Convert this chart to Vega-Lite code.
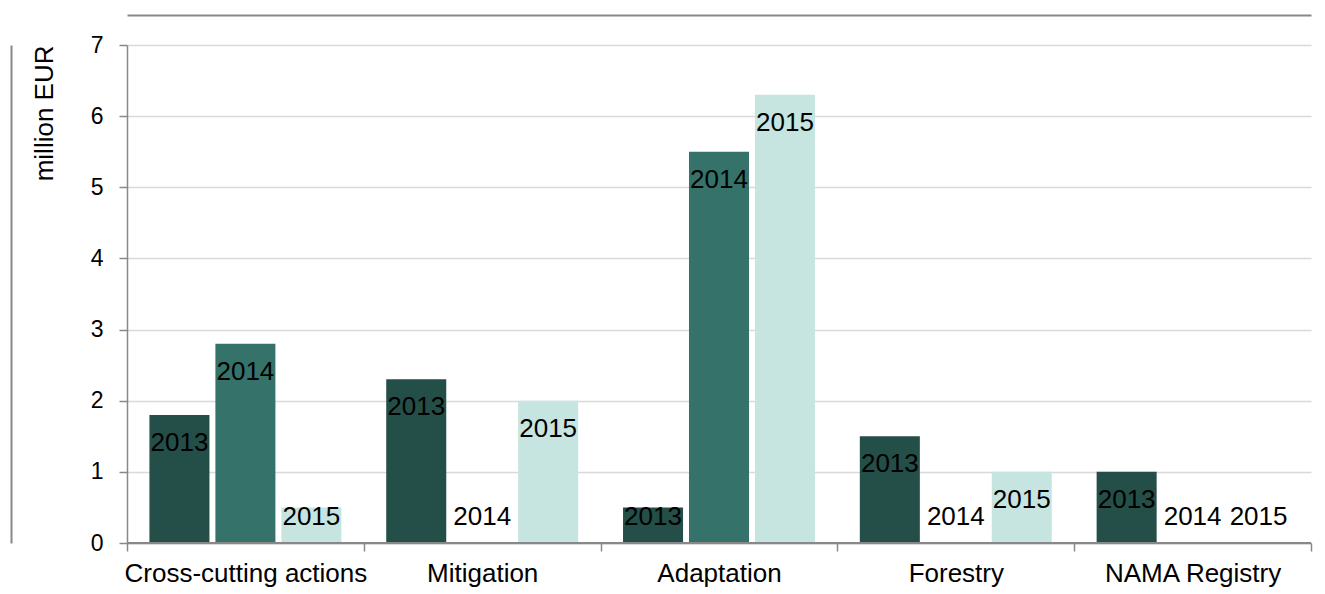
{
  "$schema": "https://vega.github.io/schema/vega-lite/v6.json",
  "width": 1184,
  "height": 498,
  "autosize": {"type": "none"},
  "padding": {"left": 127, "top": 45, "right": 14, "bottom": 51},
  "background": "white",
  "config": {"font": "Liberation Sans", "view": {"stroke": null}},
  "data": {
    "values": [
      {"category": "Cross-cutting actions", "year": "2013", "value": 1.8},
      {"category": "Cross-cutting actions", "year": "2014", "value": 2.8},
      {"category": "Cross-cutting actions", "year": "2015", "value": 0.5},
      {"category": "Mitigation", "year": "2013", "value": 2.3},
      {"category": "Mitigation", "year": "2014", "value": 0},
      {"category": "Mitigation", "year": "2015", "value": 2.0},
      {"category": "Adaptation", "year": "2013", "value": 0.5},
      {"category": "Adaptation", "year": "2014", "value": 5.5},
      {"category": "Adaptation", "year": "2015", "value": 6.3},
      {"category": "Forestry", "year": "2013", "value": 1.5},
      {"category": "Forestry", "year": "2014", "value": 0},
      {"category": "Forestry", "year": "2015", "value": 1.0},
      {"category": "NAMA Registry", "year": "2013", "value": 1.0},
      {"category": "NAMA Registry", "year": "2014", "value": 0},
      {"category": "NAMA Registry", "year": "2015", "value": 0}
    ]
  },
  "layer": [
    {
      "mark": {"type": "bar"},
      "encoding": {
        "x": {
          "field": "category",
          "type": "nominal",
          "sort": ["Cross-cutting actions", "Mitigation", "Adaptation", "Forestry", "NAMA Registry"],
          "scale": {"paddingInner": 0, "paddingOuter": 0},
          "axis": {
            "title": null,
            "labelFontSize": 26,
            "labelColor": "black",
            "labelAngle": 0,
            "labelLimit": 0,
            "tickBand": "extent",
            "tickSize": 8,
            "tickColor": "#888888",
            "tickWidth": 1.5,
            "domainColor": "#888888",
            "domainWidth": 1.5,
            "labelPadding": 9,
            "grid": false
          }
        },
        "xOffset": {
          "field": "year",
          "type": "nominal",
          "sort": ["2013", "2014", "2015"],
          "scale": {"paddingInner": 0.09, "paddingOuter": 0.34}
        },
        "y": {
          "field": "value",
          "type": "quantitative",
          "scale": {"domain": [0, 7], "nice": false},
          "axis": {
            "title": "million EUR",
            "titleFontSize": 26,
            "titleFontWeight": "normal",
            "titleColor": "black",
            "titleAnchor": "end",
            "titlePadding": 33,
            "labelFontSize": 23,
            "labelColor": "black",
            "tickSize": 8,
            "tickColor": "#888888",
            "tickWidth": 1.5,
            "labelPadding": 16,
            "domainColor": "#888888",
            "domainWidth": 1.5,
            "gridColor": "#d9d9d9",
            "gridWidth": 1.5,
            "values": [0, 1, 2, 3, 4, 5, 6, 7]
          }
        },
        "color": {
          "field": "year",
          "type": "nominal",
          "scale": {"domain": ["2013", "2014", "2015"], "range": ["#244e48", "#35736a", "#c6e5e0"]},
          "legend": null
        }
      }
    },
    {
      "mark": {"type": "text", "dy": 28, "baseline": "middle", "align": "center", "fontSize": 26, "color": "black"},
      "encoding": {
        "x": {
          "field": "category",
          "type": "nominal",
          "sort": ["Cross-cutting actions", "Mitigation", "Adaptation", "Forestry", "NAMA Registry"],
          "scale": {"paddingInner": 0, "paddingOuter": 0},
          "axis": {
            "orient": "top",
            "offset": 30,
            "labels": false,
            "ticks": false,
            "grid": false,
            "title": null,
            "domainColor": "#888888",
            "domainWidth": 2
          }
        },
        "xOffset": {
          "field": "year",
          "type": "nominal",
          "sort": ["2013", "2014", "2015"],
          "scale": {"paddingInner": 0.09, "paddingOuter": 0.34}
        },
        "y": {
          "field": "value",
          "type": "quantitative",
          "scale": {"domain": [0.76, 7], "range": [444, 0], "clamp": true, "zero": false, "nice": false},
          "axis": null
        },
        "text": {"field": "year"}
      }
    },
    {
      "mark": {"type": "rule", "color": "#888888", "strokeWidth": 1.5},
      "encoding": {
        "y": {
          "datum": 0,
          "type": "quantitative",
          "scale": {"domain": [0, 7], "nice": false},
          "axis": {
            "orient": "right",
            "offset": -1300,
            "labels": false,
            "ticks": false,
            "grid": false,
            "title": null,
            "domainColor": "#888888",
            "domainWidth": 2
          }
        }
      }
    }
  ],
  "resolve": {"scale": {"y": "independent"}, "axis": {"x": "independent", "y": "independent"}}
}
